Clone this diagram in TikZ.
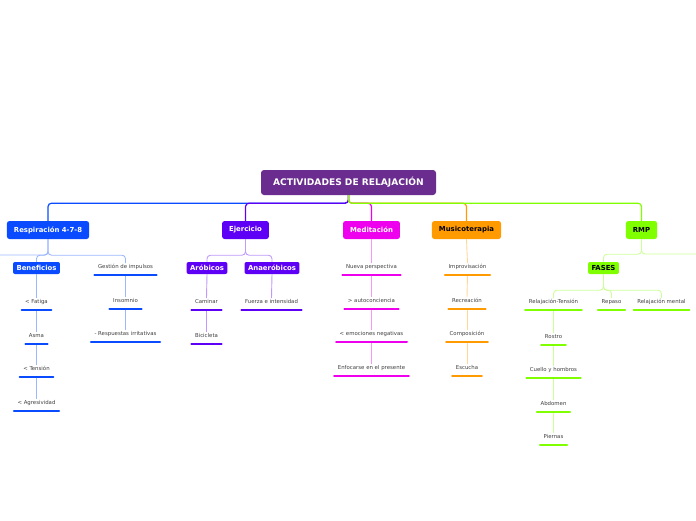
\documentclass[tikz,border=0pt]{standalone}
\usepackage{fontspec}
\setmainfont{DejaVu Sans}
\definecolor{rootc}{HTML}{6A2C8E}
\definecolor{respc}{HTML}{0A4BFF}
\definecolor{ejerc}{HTML}{5E00F5}
\definecolor{medc}{HTML}{EE00EE}
\definecolor{musc}{HTML}{FF9A00}
\definecolor{rmpc}{HTML}{80FF00}
\begin{document}
\begin{tikzpicture}[
  x=1pt, y=-1pt,
  rootbox/.style={rectangle, rounded corners=3pt, fill=rootc, text=white, font=\fontsize{9.1}{10}\selectfont\bfseries, minimum width=175pt, minimum height=25pt, inner sep=0pt},
  topic/.style={rectangle, rounded corners=2.5pt, fill=#1, text=white, font=\fontsize{6.9}{8}\selectfont\bfseries, minimum height=18pt, inner xsep=7pt, inner ysep=0pt},
  subtopic/.style={rectangle, rounded corners=2pt, fill=#1, text=white, font=\fontsize{6.9}{8}\selectfont\bfseries, minimum height=12pt, inner xsep=3.5pt, inner ysep=0pt},
  leaf/.style={anchor=base, font=\fontsize{5.4}{6}\selectfont, text=black!75, text height=3.8pt, text depth=5pt, inner ysep=1.5pt, inner xsep=3.5pt},
  trunk/.style={draw=#1, line width=1.2pt, rounded corners=3.5pt},
  twig/.style={draw=#1!40, line width=0.9pt, rounded corners=3.5pt},
  bar/.style={draw=#1, line width=2pt, line cap=round}
]
  \useasboundingbox (0,0) rectangle (696,520);

  % raiz y ramas principales
  \node[rootbox] (root) at (348.5,182.5) {ACTIVIDADES DE RELAJACIÓN};
  \node[topic=respc] (resp) at (48,230) {Respiración 4-7-8};
  \node[topic=ejerc] (ejer) at (245.5,230) {Ejercicio};
  \node[topic=medc] (medit) at (371.5,230) {Meditación};
  \node[topic=musc, text=black] (music) at (466.5,230) {Musicoterapia};
  \node[topic=rmpc, text=black] (rmp) at (641.5,230) {RMP};

  \draw[trunk=respc] (root.south) -- ++(0,8) -| (resp.north);
  \draw[trunk=ejerc] (root.south) -- ++(0,8) -| (ejer.north);
  \draw[trunk=medc] (root.south) -- ++(0,8) -| (medit.north);
  \draw[trunk=musc] (root.south) -- ++(0,8) -| (music.north);
  \draw[trunk=rmpc] (root.south) -- ++(0,8) -| (rmp.north);

  % Respiración 4-7-8
  \node[subtopic=respc] (benef) at (36.5,268) {Beneficios};
  \node[leaf] (gestion) at (125.5,268.5) {Gestión de impulsos};
  \node[leaf] (insomnio) at (125.5,302.5) {Insomnio};
  \node[leaf] (respirr) at (125.5,335.5) {- Respuestas irritativas};
  \node[leaf] (fatiga) at (36.5,303.5) {< Fatiga};
  \node[leaf] (asma) at (36.5,337.5) {Asma};
  \node[leaf] (tension) at (36.5,370.5) {< Tensión};
  \node[leaf] (agresiv) at (36.5,404.5) {< Agresividad};
  \coordinate (lftend) at (0,255);

  \draw[twig=respc] (resp.south) |- (lftend);
  \draw[twig=respc] (resp.south) -- ++(0,16) -| (benef.north);
  \draw[twig=respc] (resp.south) -- ++(0,16) -| (gestion.north);
  \foreach \a/\b in {benef/fatiga, fatiga/asma, asma/tension, tension/agresiv, gestion/insomnio, insomnio/respirr}
    \draw[twig=respc] (\a.south) -- (\b.north);
  \foreach \n in {gestion, insomnio, respirr, fatiga, asma, tension, agresiv}
    \draw[bar=respc] (\n.south west) -- (\n.south east);

  % Ejercicio
  \node[subtopic=ejerc] (arob) at (207,268) {Aróbicos};
  \node[subtopic=ejerc] (anaer) at (272,268) {Anaeróbicos};
  \node[leaf] (caminar) at (206.5,303.5) {Caminar};
  \node[leaf] (bici) at (206.5,337.5) {Bicicleta};
  \node[leaf] (fuerza) at (271.5,303.5) {Fuerza e intensidad};

  \draw[twig=ejerc] (ejer.south) -- ++(0,16) -| (arob.north);
  \draw[twig=ejerc] (ejer.south) -- ++(0,16) -| (anaer.north);
  \foreach \a/\b in {arob/caminar, caminar/bici, anaer/fuerza}
    \draw[twig=ejerc] (\a.south) -- (\b.north);
  \foreach \n in {caminar, bici, fuerza}
    \draw[bar=ejerc] (\n.south west) -- (\n.south east);

  % Meditación
  \node[leaf] (nueva) at (371.5,268.5) {Nueva perspectiva};
  \node[leaf] (autoc) at (371.5,302.5) {> autoconciencia};
  \node[leaf] (emoc) at (371.5,335.5) {< emociones negativas};
  \node[leaf] (enfoc) at (371.5,369.5) {Enfocarse en el presente};

  \foreach \a/\b in {medit/nueva, nueva/autoc, autoc/emoc, emoc/enfoc}
    \draw[twig=medc] (\a.south) -- (\b.north);
  \foreach \n in {nueva, autoc, emoc, enfoc}
    \draw[bar=medc] (\n.south west) -- (\n.south east);

  % Musicoterapia
  \node[leaf] (improv) at (467.5,268.5) {Improvisación};
  \node[leaf] (recre) at (467,302.5) {Recreación};
  \node[leaf] (compos) at (467,335.5) {Composición};
  \node[leaf] (escucha) at (467,369.5) {Escucha};

  \foreach \a/\b in {music/improv, improv/recre, recre/compos, compos/escucha}
    \draw[twig=musc] (\a.south) -- (\b.north);
  \foreach \n in {improv, recre, compos, escucha}
    \draw[bar=musc] (\n.south west) -- (\n.south east);

  % RMP
  \node[subtopic=rmpc, text=black] (fases) at (603.5,268) {FASES};
  \node[leaf] (reltens) at (553.5,303.5) {Relajación-Tensión};
  \node[leaf] (repaso) at (611.5,303.5) {Repaso};
  \node[leaf] (relment) at (661.5,303.5) {Relajación mental};
  \node[leaf] (rostro) at (553.5,338.5) {Rostro};
  \node[leaf] (cuello) at (553.5,371.5) {Cuello y hombros};
  \node[leaf] (abdomen) at (553.5,405.5) {Abdomen};
  \node[leaf] (piernas) at (553.5,438.5) {Piernas};
  \coordinate (rgtend) at (696,254);

  \draw[twig=rmpc] (rmp.south) |- (rgtend);
  \draw[twig=rmpc] (rmp.south) -- ++(0,15) -| (fases.north);
  \foreach \n in {reltens, repaso, relment}
    \draw[twig=rmpc] (fases.south) -- ++(0,16) -| (\n.north);
  \foreach \a/\b in {reltens/rostro, rostro/cuello, cuello/abdomen, abdomen/piernas}
    \draw[twig=rmpc] (\a.south) -- (\b.north);
  \foreach \n in {reltens, repaso, relment, rostro, cuello, abdomen, piernas}
    \draw[bar=rmpc] (\n.south west) -- (\n.south east);
\end{tikzpicture}
\end{document}
